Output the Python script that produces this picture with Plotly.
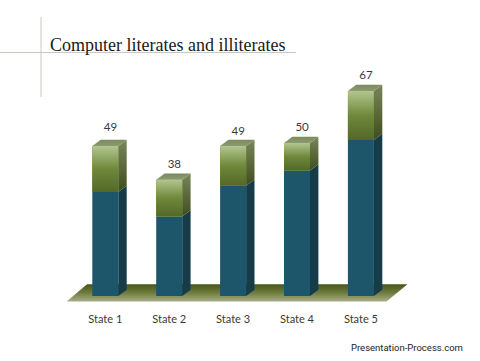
import plotly.graph_objects as go

categories = ["State 1", "State 2", "State 3", "State 4", "State 5"]
literates = [34, 26, 36, 41, 51]
illiterates = [15, 12, 13, 9, 16]
totals = [a + b for a, b in zip(literates, illiterates)]
label_gap_px = [18, 15, 14, 15, 15]

W, H, PLOT_H = 480, 361, 305
PX_X, PX_Y = 63.9, 3.06          # px per category / per unit
X0_PX, Y0_PX = 105.3, 296        # pixel position of category 0 / value 0
BAR_W = 26 / PX_X
DX, DY = 8.4 / PX_X, 6.3 / PX_Y  # fake-3D depth
xr = [-X0_PX / PX_X, (W - X0_PX) / PX_X]
yr = [(Y0_PX - PLOT_H) / PX_Y, Y0_PX / PX_Y]

fig = go.Figure()


def poly(xs, ys, stops, axes=("x", "y"), gtype="vertical"):
    fig.add_trace(go.Scatter(
        x=xs + xs[:1], y=ys + ys[:1], mode="lines", fill="toself", line=dict(width=0),
        fillgradient=dict(type=gtype, colorscale=stops), hoverinfo="skip",
        showlegend=False, xaxis=axes[0], yaxis=axes[1]))


# floor
poly([-0.604, -0.286, 4.73, 4.40], [-1.8, 3.82, 3.82, -1.8],
     [[0, "#a8ae8a"], [0.5, "#6f7d3c"], [1, "#46561a"]])

idx = list(range(len(categories)))
fig.add_trace(go.Bar(x=idx, y=literates, width=BAR_W, marker=dict(color="#1d566a", line=dict(width=0)),
                     name="Literates", showlegend=False, xaxis="x2", yaxis="y2", hoverinfo="skip"))
fig.add_trace(go.Bar(x=idx, y=illiterates, base=literates, width=BAR_W,
                     marker=dict(color="#6f8a3c", line=dict(width=0)),
                     name="Illiterates", showlegend=False, xaxis="x2", yaxis="y2", hoverinfo="skip"))

ax2 = ("x2", "y2")
for i, (lit, tot) in enumerate(zip(literates, totals)):
    l, r = i - BAR_W / 2, i + BAR_W / 2
    # gradient on the green front
    poly([l, r, r, l], [lit, lit, tot, tot],
         [[0, "#536828"], [0.5, "#6f883a"], [1, "#b2c68e"]], ax2)
    # blue side
    fig.add_trace(go.Scatter(x=[r, r + DX, r + DX, r, r], y=[0, DY, lit + DY, lit, 0], mode="lines",
                             fill="toself", fillcolor="#163c4a", line=dict(width=0), hoverinfo="skip",
                             showlegend=False, xaxis="x2", yaxis="y2"))
    # green side
    poly([r, r + DX, r + DX, r], [lit, lit + DY, tot + DY, tot],
         [[0, "#3f4d1e"], [1, "#78865a"]], ax2)
    # top
    poly([l, r, r + DX, l + DX], [tot, tot, tot + DY, tot + DY],
         [[0, "#8d9a72"], [1, "#7a8a5e"]], ax2)

# value labels
fig.add_trace(go.Scatter(x=[i + (DX / 2 + 1.5 / PX_X) * 0.9 for i in idx],
                         y=[t + g / PX_Y for t, g in zip(totals, label_gap_px)],
                         mode="text", text=[str(t) for t in totals], textposition="middle center",
                         textfont=dict(family="Lato", size=11.5, color="#3a3a3a"),
                         hoverinfo="skip", showlegend=False, xaxis="x2", yaxis="y2"))

fig.update_layout(
    width=W, height=H, margin=dict(l=0, r=0, t=0, b=H - PLOT_H), paper_bgcolor="white",
    plot_bgcolor="white", barmode="overlay", showlegend=False,
    xaxis=dict(range=xr, tickvals=idx, ticktext=categories, ticks="outside", ticklen=4,
               tickcolor="rgba(0,0,0,0)", showgrid=False, zeroline=False, showline=False,
               tickfont=dict(family="Lato", size=11, color="#3a3a3a"), fixedrange=True),
    yaxis=dict(range=yr, visible=False, showgrid=False, zeroline=False, fixedrange=True),
    xaxis2=dict(range=xr, overlaying="x", visible=False, fixedrange=True),
    yaxis2=dict(range=yr, overlaying="y", visible=False, fixedrange=True),
    shapes=[
        dict(type="line", xref="paper", yref="paper", x0=0, x1=296 / W, y0=1 - 52.5 / PLOT_H,
             y1=1 - 52.5 / PLOT_H, line=dict(color="#c8c8c0", width=1)),
        dict(type="line", xref="paper", yref="paper", x0=41 / W, x1=41 / W, y0=1 - 17 / PLOT_H,
             y1=1 - 97 / PLOT_H, line=dict(color="#c8c8c0", width=1)),
    ],
    annotations=[
        dict(text="Computer literates and illiterates", xref="paper", yref="paper", x=47.5 / W,
             y=1 - 45 / PLOT_H, xanchor="left", yanchor="middle", showarrow=False,
             font=dict(family="Liberation Serif", size=18, color="#1a1a1a")),
        dict(text="Presentation-Process.com", xref="paper", yref="paper", x=349 / W,
             y=1 - 347 / PLOT_H, xanchor="left", yanchor="middle", showarrow=False,
             font=dict(family="Roboto", size=9.5, color="#222222")),
    ],
)

fig.write_html("out.html", config=dict(displayModeBar=False),
               post_script="document.body.style.margin='0';document.documentElement.style.overflow='hidden';")
